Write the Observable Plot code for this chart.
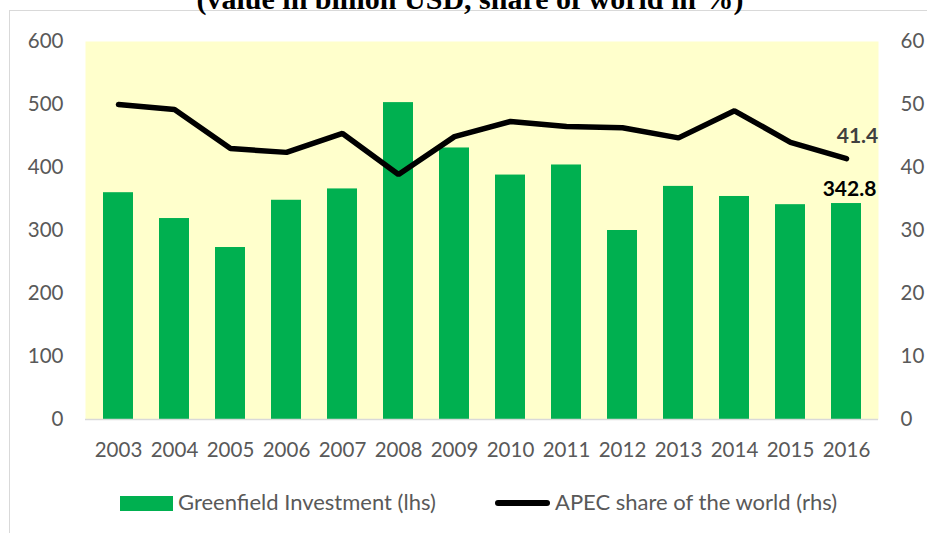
<!DOCTYPE html>
<html>
<head>
<meta charset="utf-8">
<script src="https://cdn.jsdelivr.net/npm/d3@7"></script>
<script src="https://cdn.jsdelivr.net/npm/@observablehq/plot@0.6"></script>
<style>
  html, body { margin: 0; padding: 0; background: #fff; }
  #wrap { position: relative; width: 927px; height: 533px; overflow: hidden; font-family: Lato, "Open Sans", sans-serif; }
  #border { position: absolute; left: 9px; top: 10px; width: 1000px; height: 600px; border: 1.5px solid #d9d9d9; box-sizing: border-box; }
  #title { position: absolute; left: 0; width: 940px; top: -16.5px; line-height: 1; text-align: center; font-family: "Liberation Serif", "Times New Roman", serif; font-weight: bold; font-size: 30px; color: #000; white-space: nowrap; }
  #chart { position: absolute; left: 0; top: 0; }
  .leg { position: absolute; font-size: 22px; color: #595959; white-space: nowrap; line-height: 1; }
  .sw1 { position: absolute; left: 120px; top: 496px; width: 53px; height: 15px; background: #00B050; }
  .sw2 { position: absolute; left: 495px; top: 500px; width: 55px; height: 6px; background: #000; border-radius: 3px; }
</style>
</head>
<body>
<div id="wrap">
  <div id="border"></div>
  <div id="title">(value in billion USD, share of world in %)</div>
  <div id="chart"></div>
  <div class="sw1"></div>
  <div class="leg" style="left:178px; top:490.5px;">Greenfield Investment (lhs)</div>
  <div class="sw2"></div>
  <div class="leg" style="left:555px; top:490.5px;">APEC share of the world (rhs)</div>
</div>
<script>
const years = ["2003","2004","2005","2006","2007","2008","2009","2010","2011","2012","2013","2014","2015","2016"];
const investment = [360, 319, 273, 348, 366, 503, 431, 388, 404, 300, 370, 354, 341, 342.8];
const share = [50.0, 49.2, 43.0, 42.4, 45.4, 38.9, 44.9, 47.3, 46.5, 46.3, 44.7, 49.0, 44.0, 41.4];
const leftTicks = [0, 100, 200, 300, 400, 500, 600];
const rightTicks = [0, 10, 20, 30, 40, 50, 60];

const data = years.map((y, i) => ({year: y, inv: investment[i], share: share[i]}));
const last = data[data.length - 1];
const ratio = 10; // left units per right unit

const plot = Plot.plot({
  width: 927,
  height: 533,
  marginLeft: 85,
  marginRight: 49,
  marginTop: 41,
  marginBottom: 114,
  style: {fontFamily: "Lato, 'Open Sans', sans-serif", fontSize: "20.5px", color: "#595959", background: "transparent", overflow: "visible"},
  x: {domain: years, paddingInner: 0.47, paddingOuter: 0.235, label: null},
  y: {domain: [0, 600], label: null},
  marks: [
    Plot.frame({fill: "#FFFFCC", stroke: null}),
    Plot.barY(data, {x: "year", y: "inv", fill: "#00B050"}),
    Plot.ruleY([0], {stroke: "#d9d9d9", strokeWidth: 1.5}),
    Plot.lineY(data, {x: "year", y: d => d.share * ratio, stroke: "#000", strokeWidth: 5.5, strokeLinejoin: "miter", strokeLinecap: "round"}),
    Plot.axisY(leftTicks, {anchor: "left", tickSize: 0, tickPadding: 22, fill: "#595959", fontSize: 20.5}),
    Plot.axisY(rightTicks.map(t => t * ratio), {anchor: "right", tickSize: 0, tickPadding: 22, tickFormat: d => String(d / ratio), fill: "#595959", fontSize: 20.5}),
    Plot.axisX({tickSize: 0, tickPadding: 23, fill: "#595959", fontSize: 20.5}),
    Plot.text([last], {x: "year", y: d => d.share * ratio, text: d => d.share.toFixed(1), dy: -22, dx: 11, fill: "#404040", fontWeight: "bold", fontSize: 21}),
    Plot.text([last], {x: "year", y: "inv", text: d => d.inv.toFixed(1), dy: -14, dx: 3, fill: "#000", fontWeight: "bold", fontSize: 21})
  ]
});
document.getElementById("chart").appendChild(plot);
</script>
</body>
</html>
